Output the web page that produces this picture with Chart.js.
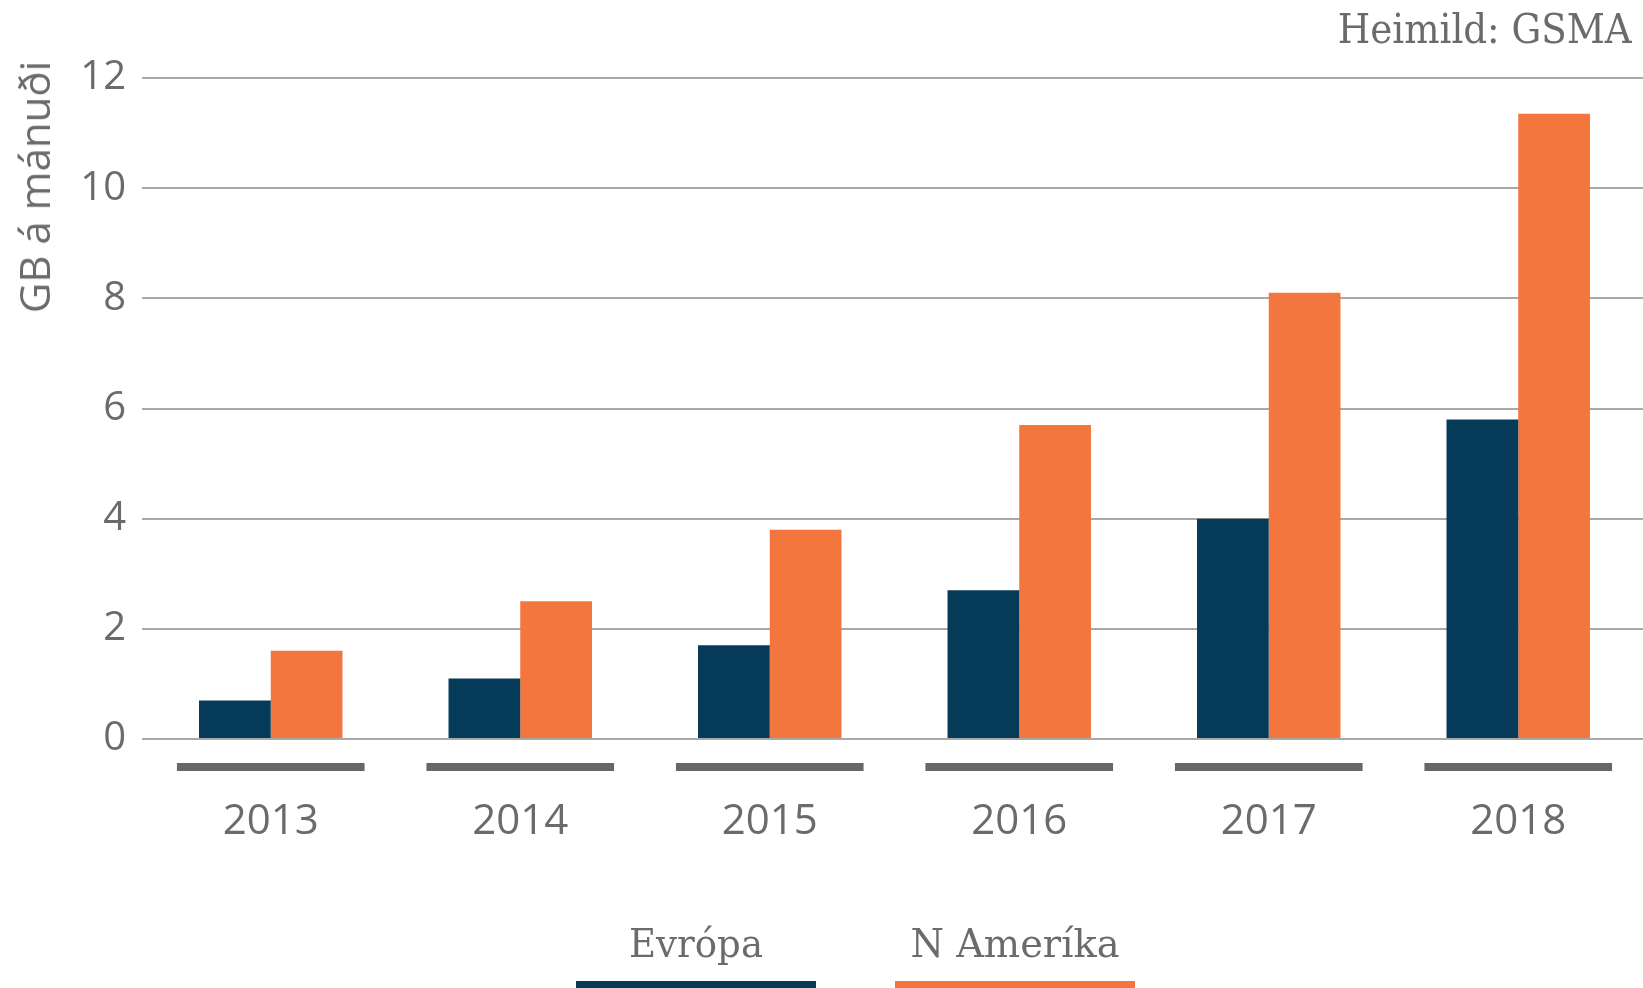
<!DOCTYPE html>
<html>
<head>
<meta charset="utf-8">
<script src="https://cdn.jsdelivr.net/npm/chart.js@4.4.1/dist/chart.umd.min.js"></script>
<style>
  html, body { margin: 0; padding: 0; background: #ffffff; }
  #wrap { position: relative; width: 1643px; height: 988px; overflow: hidden; background: #fff; }
  #cw { position: absolute; left: 0; top: 0; width: 1643px; height: 988px; }
  .txt { position: absolute; color: #6b6b6b; white-space: nowrap; line-height: 1; }
  .serif { font-family: "DejaVu Serif", serif; }
  #src { right: 11px; top: 8.6px; font-size: 41px; transform-origin: right center; }
  #ytitle { font-family: "Open Sans"; font-size: 42px; left: 33.7px; top: 187.4px;
            transform: translate(-50%, -50%) rotate(-90deg); }
  .leg { position: absolute; width: 240px; height: 988px; }
  .lt { font-size: 39px; transform: translateX(-50%); }
  .lb { position: absolute; left: 0; width: 240px; height: 7px; }
</style>
</head>
<body>
<div id="wrap">
  <div id="cw"><canvas id="c"></canvas></div>
  <div id="src" class="txt serif">Heimild: GSMA</div>
  <div id="ytitle" class="txt">GB á mánuði</div>
  <div id="legend"></div>
</div>
<script>
// ---- data ----
const categories = ['2013', '2014', '2015', '2016', '2017', '2018'];
const europe = [0.7, 1.1, 1.7, 2.7, 4.0, 5.8];
const northAmerica = [1.6, 2.5, 3.8, 5.7, 8.1, 11.35];
const seriesNames = ['Evrópa', 'N Ameríka'];
const seriesColors = ['#063a59', '#f2763e'];
const yMin = 0, yMax = 12, yStep = 2;

// gray segment under each category
const categoryBars = {
  id: 'categoryBars',
  afterDatasetsDraw(chart) {
    const xs = chart.scales.x;
    const ctx = chart.ctx;
    const w = (xs.right - xs.left) / categories.length * 0.752;
    ctx.save();
    ctx.fillStyle = '#676767';
    categories.forEach((c, i) => {
      const cx = xs.getPixelForValue(i);
      ctx.fillRect(cx - w / 2, xs.top + 24, w, 8);
    });
    ctx.restore();
  }
};

const chart = new Chart(document.getElementById('c'), {
  type: 'bar',
  data: {
    labels: categories,
    datasets: [
      { label: seriesNames[0], data: europe, backgroundColor: seriesColors[0], borderWidth: 0,
        categoryPercentage: 0.575, barPercentage: 1.0 },
      { label: seriesNames[1], data: northAmerica, backgroundColor: seriesColors[1], borderWidth: 0,
        categoryPercentage: 0.575, barPercentage: 1.0 }
    ]
  },
  options: {
    responsive: true,
    maintainAspectRatio: false,
    animation: false,
    layout: { padding: { top: 78, right: 0, bottom: 139, left: 0 } },
    plugins: {
      legend: { display: false },
      tooltip: { enabled: false },
      title: { display: false }
    },
    scales: {
      x: {
        grid: { display: false, drawTicks: false },
        border: { display: false },
        ticks: { font: { family: 'Open Sans', size: 42 }, color: '#6b6b6b', padding: 58, maxRotation: 0 },
        afterFit(s) { s.height = 110; }
      },
      y: {
        min: yMin, max: yMax,
        ticks: { stepSize: yStep, font: { family: 'Open Sans', size: 40 }, color: '#6b6b6b', padding: 16 },
        grid: { color: '#a8a8a8', lineWidth: 2, tickLength: 4, drawTicks: true },
        border: { display: false },
        afterFit(s) { s.width = 146; }
      }
    }
  },
  plugins: [categoryBars]
});

// fit serif text horizontally to the reference widths
function fitWidth(el, target, baseTransform) {
  const w = el.getBoundingClientRect().width;
  el.style.transform = baseTransform + ' scaleX(' + (target / w) + ')';
}

// HTML legend built from datasets
const legendCenters = [696, 1015];
const legendWidths = [134, 209];
const legend = document.getElementById('legend');
chart.data.datasets.forEach((ds, i) => {
  const t = document.createElement('div');
  t.className = 'lt txt serif';
  t.style.left = legendCenters[i] + 'px';
  t.style.top = '923.7px';
  t.textContent = ds.label;
  const b = document.createElement('div');
  b.className = 'lb';
  b.style.left = (legendCenters[i] - 120) + 'px';
  b.style.top = '981px';
  b.style.background = ds.backgroundColor;
  legend.appendChild(t);
  legend.appendChild(b);
  t.style.transformOrigin = 'left center';
  const w = t.getBoundingClientRect().width;
  t.style.transform = 'translateX(' + (-legendWidths[i] / 2) + 'px) scaleX(' + (legendWidths[i] / w) + ')';
});
fitWidth(document.getElementById('src'), 294, '');
</script>
</body>
</html>
